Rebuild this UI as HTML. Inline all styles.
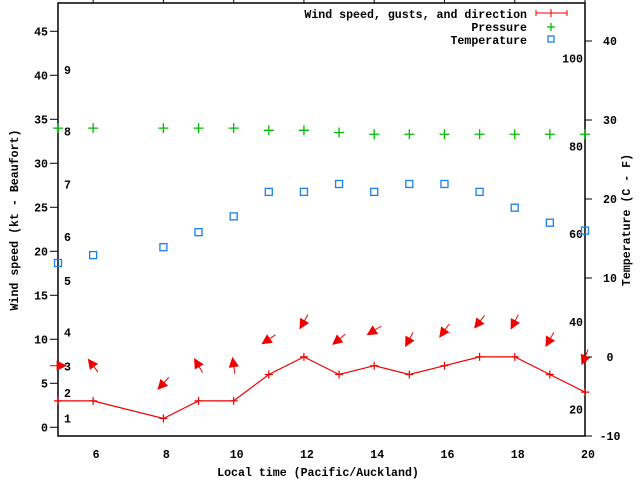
<!DOCTYPE html>
<html><head><meta charset="utf-8"><style>
body{margin:0;background:#fff}
svg{display:block}
text{font-family:"Liberation Mono",monospace;font-weight:bold;font-size:11.6px;fill:#000}
</style></head><body>
<svg id="chart" width="640" height="480" viewBox="0 0 640 480" xmlns="http://www.w3.org/2000/svg">
<rect x="58" y="3" width="527" height="433" fill="none" stroke="#000" stroke-width="1.5"/>
<g id="axes"></g>
<g id="marks"></g>
<text x="318" y="476" text-anchor="middle">Local time (Pacific/Auckland)</text>
<text transform="translate(18,220) rotate(-90)" text-anchor="middle">Wind speed (kt - Beaufort)</text>
<text transform="translate(630,220) rotate(-90)" text-anchor="middle">Temperature (C - F)</text>
<g>
<text x="527" y="18" text-anchor="end">Wind speed, gusts, and direction</text>
<g><line x1="536" y1="13" x2="567" y2="13" stroke="#e00" stroke-width="1"/><line x1="536" y1="10" x2="536" y2="16" stroke="#e00"/><line x1="567" y1="10" x2="567" y2="16" stroke="#e00"/><line x1="551" y1="9" x2="551" y2="17" stroke="#e00"/></g>
<text x="527" y="31" text-anchor="end">Pressure</text>
<g><line x1="547" y1="27" x2="555" y2="27" stroke="#0b0" stroke-width="1.3"/><line x1="551" y1="23" x2="551" y2="31" stroke="#0b0" stroke-width="1.3"/></g>
<text x="527" y="44" text-anchor="end">Temperature</text>
<rect x="548" y="36" width="6" height="6" fill="none" stroke="#1a7fe8" stroke-width="1.3"/>
</g>
</svg>
<script>
const hours=[5,6,8,9,10,11,12,13,14,15,16,17,18,19,20];
const windKt=[3,3,1,3,3,6,8,6,7,6,7,8,8,6,4];
const gustKt=[7,7,5,7,7,10,12,10,11,10,11,12,12,10,8];
const dirFrom=[270,143,42,150,172,56,30,51,58,28,36,39,27,30,23];
const pressure=[34,34,34,34,34,33.75,33.75,33.5,33.3,33.3,33.3,33.3,33.3,33.3,33.3];
const tempC=[11.9,12.9,13.9,15.8,17.8,20.9,20.9,21.9,20.9,21.9,21.9,20.9,18.9,17,16];
const xTicks=[6,8,10,12,14,16,18,20];
const ktTicks=[0,5,10,15,20,25,30,35,40,45];
const cTicks=[-10,0,10,20,30,40];
const fTicks=[20,40,60,80,100];
const bftLabels=[1,2,3,4,5,6,7,8,9];
const bftKt=[1,3.9,6.9,10.8,16.6,21.6,27.6,33.6,40.6];

const NS="http://www.w3.org/2000/svg";
const X=h=>58+(h-5)*527/15;
const YK=v=>427.3-v*8.8;
const YC=c=>357-c*7.9;
const axes=document.getElementById('axes'),marks=document.getElementById('marks');
function mk(t,a,p){const e=document.createElementNS(NS,t);for(const k in a)e.setAttribute(k,a[k]);p.appendChild(e);return e;}
xTicks.forEach(h=>{
 const l=mk('line',{x1:X(h),x2:X(h),y1:0,y2:3,stroke:'#000'},axes);
 
 
 const t=mk('text',{x:X(h)+3,y:458,'text-anchor':'middle'},axes);t.textContent=h;
 
 
});
ktTicks.forEach(v=>{
 mk('line',{x1:50,x2:58,y1:YK(v),y2:YK(v),stroke:'#000'},axes);
 const t=mk('text',{x:48,y:YK(v)+4,'text-anchor':'end'},axes);t.textContent=v;
 
 
});
cTicks.forEach(v=>{
 mk('line',{x1:585,x2:592,y1:YC(v),y2:YC(v),stroke:'#000'},axes);
 const t=mk('text',{x:610,y:YC(v)+4,'text-anchor':'middle'},axes);t.textContent=v;
 
 
});
fTicks.forEach(f=>{
 const t=mk('text',{x:583,y:YC((f-32)*5/9)+4,'text-anchor':'end'},axes);t.textContent=f;
 
 
});
bftLabels.forEach((b,i)=>{
 const t=mk('text',{x:64,y:YK(bftKt[i])+4},axes);t.textContent=b;
 
 
});
const wl=mk('polyline',{points:hours.map((h,i)=>X(h)+','+YK(windKt[i])).join(' '),fill:'none',stroke:'#e00','stroke-width':1.2},marks);


hours.forEach((h,i)=>{
 const x=X(h),y=YK(windKt[i]);
 const g=mk('path',{d:`M${x-4},${y}H${x+4}M${x},${y-4}V${y+4}`,stroke:'#e00','stroke-width':1.2},marks);
 
 
 const to=(dirFrom[i]+180)*Math.PI/180;
 const dx=Math.sin(to),dy=-Math.cos(to);
 const cx=X(h),cy=YK(gustKt[i]),L=8;
 const hx=cx+dx*L,hy=cy+dy*L,tx=cx-dx*L,ty=cy-dy*L;
 const px=-dy,py=dx;
 const bx=hx-dx*9,by=hy-dy*9;
 const a=mk('g',{},marks);
 
 
 mk('line',{x1:tx,y1:ty,x2:hx,y2:hy,stroke:'#e00','stroke-width':1},a);
 mk('polygon',{points:`${hx},${hy} ${bx+px*4.5},${by+py*4.5} ${bx-px*4.5},${by-py*4.5}`,fill:'#e00',stroke:'#e00','stroke-width':0.8},a);
 const px2=X(h),py2=YK(pressure[i]);
 const p=mk('path',{d:`M${px2-5},${py2}H${px2+5}M${px2},${py2-5}V${py2+5}`,stroke:'#0b0','stroke-width':1.3},marks);
 
 
 const r=mk('rect',{x:X(h)-3.5,y:YC(tempC[i])-3.5,width:7,height:7,fill:'none',stroke:'#1a7fe8','stroke-width':1.3},marks);
 
 
});
</script>
</body></html>
